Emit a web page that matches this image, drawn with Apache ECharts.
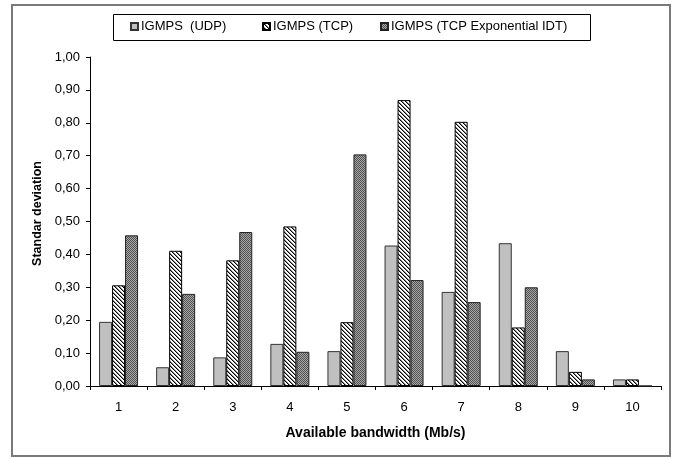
<!DOCTYPE html>
<html>
<head>
<meta charset="utf-8">
<script src="https://cdn.jsdelivr.net/npm/echarts@6/dist/echarts.min.js"></script>
<style>
html,body{margin:0;padding:0;background:#fff;}
#chart{width:678px;height:459px;}
</style>
</head>
<body>
<div id="chart"></div>
<script>
var categories = ['1','2','3','4','5','6','7','8','9','10'];
var seriesNames = ['IGMPS  (UDP)', 'IGMPS (TCP)', 'IGMPS (TCP Exponential IDT)'];
var udpValues = [0.195, 0.057, 0.087, 0.128, 0.106, 0.427, 0.286, 0.434, 0.106, 0.02];
var tcpValues = [0.306, 0.411, 0.382, 0.485, 0.194, 0.869, 0.803, 0.178, 0.043, 0.02];
var expValues = [0.458, 0.280, 0.468, 0.104, 0.704, 0.322, 0.255, 0.300, 0.020, 0];
var yTicks = [0, 0.1, 0.2, 0.3, 0.4, 0.5, 0.6, 0.7, 0.8, 0.9, 1.0];

function makeHatch() {
  var c = document.createElement('canvas');
  c.width = 4; c.height = 4;
  var ctx = c.getContext('2d');
  ctx.fillStyle = '#ffffff';
  ctx.fillRect(0, 0, 4, 4);
  for (var y = 0; y < 4; y++) {
    for (var x = 0; x < 4; x++) {
      var d = ((x - y) % 4 + 4) % 4;
      if (d === 0) { ctx.fillStyle = '#000000'; ctx.fillRect(x, y, 1, 1); }
      else if (d === 1) { ctx.fillStyle = '#8a8a8a'; ctx.fillRect(x, y, 1, 1); }
    }
  }
  return c;
}
function makeChecker() {
  var c = document.createElement('canvas');
  c.width = 2; c.height = 2;
  var ctx = c.getContext('2d');
  ctx.fillStyle = '#a8a8a8';
  ctx.fillRect(0, 0, 2, 2);
  ctx.fillStyle = '#505050';
  ctx.fillRect(0, 0, 1, 1);
  ctx.fillRect(1, 1, 1, 1);
  return c;
}

var chart = echarts.init(document.getElementById('chart'), null, {renderer: 'canvas'});
var font = 'Liberation Sans, Arial, sans-serif';
var legendLefts = [130, 262, 380];
function legendFor(i) {
  return {
    left: legendLefts[i], top: 20,
    padding: 0,
    itemWidth: 7, itemHeight: 7,
    icon: 'rect',
    textStyle: {fontFamily: font, fontSize: 13, color: '#000', padding: [0, 0, 0, -2]},
    data: [seriesNames[i]]
  };
}
var option = {
  animation: false,
  backgroundColor: '#fff',
  textStyle: {fontFamily: font},
  graphic: [{
    type: 'rect',
    shape: {x: 12, y: 5, width: 658, height: 451},
    style: {fill: 'none', stroke: '#7a7a7a', lineWidth: 2},
    silent: true
  }, {
    type: 'rect',
    shape: {x: 113.5, y: 14.5, width: 477, height: 26},
    style: {fill: 'none', stroke: '#000', lineWidth: 1},
    silent: true
  }],
  legend: [legendFor(0), legendFor(1), legendFor(2)],
  grid: {left: 90, right: 17, top: 57, bottom: 73},
  xAxis: {
    type: 'category',
    data: categories,
    name: 'Available bandwidth (Mb/s)',
    nameLocation: 'middle',
    nameGap: 40,
    nameTextStyle: {fontFamily: font, fontSize: 14, fontWeight: 'bold', color: '#000'},
    axisLine: {lineStyle: {color: '#000', width: 1}},
    axisTick: {show: true, length: 4, lineStyle: {color: '#000'}},
    axisLabel: {fontFamily: font, fontSize: 13, color: '#000', margin: 15}
  },
  yAxis: {
    type: 'value',
    min: yTicks[0], max: yTicks[yTicks.length - 1], interval: 0.1,
    name: 'Standar deviation',
    nameLocation: 'middle',
    nameGap: 46,
    nameTextStyle: {fontFamily: font, fontSize: 12.5, fontWeight: 'bold', color: '#000', padding: [0, 0, 0, 16]},
    axisLine: {show: true, lineStyle: {color: '#000', width: 1}},
    axisTick: {show: true, length: 4, lineStyle: {color: '#000'}},
    splitLine: {show: false},
    axisLabel: {
      fontFamily: font, fontSize: 13, color: '#000', margin: 10,
      formatter: function (v) { return v.toFixed(2).replace('.', ','); }
    }
  },
  series: [
    {
      name: seriesNames[0], type: 'bar', data: udpValues,
      barWidth: 13, barGap: '0%',
      itemStyle: {color: '#c0c0c0', borderColor: '#333', borderWidth: 1}
    },
    {
      name: seriesNames[1], type: 'bar', data: tcpValues,
      barWidth: 13, barGap: '0%',
      itemStyle: {color: {image: makeHatch(), repeat: 'repeat'}, borderColor: '#000', borderWidth: 1}
    },
    {
      name: seriesNames[2], type: 'bar', data: expValues,
      barWidth: 13, barGap: '0%',
      itemStyle: {color: {image: makeChecker(), repeat: 'repeat'}, borderColor: '#222', borderWidth: 1}
    }
  ]
};
chart.setOption(option);
</script>
</body>
</html>
